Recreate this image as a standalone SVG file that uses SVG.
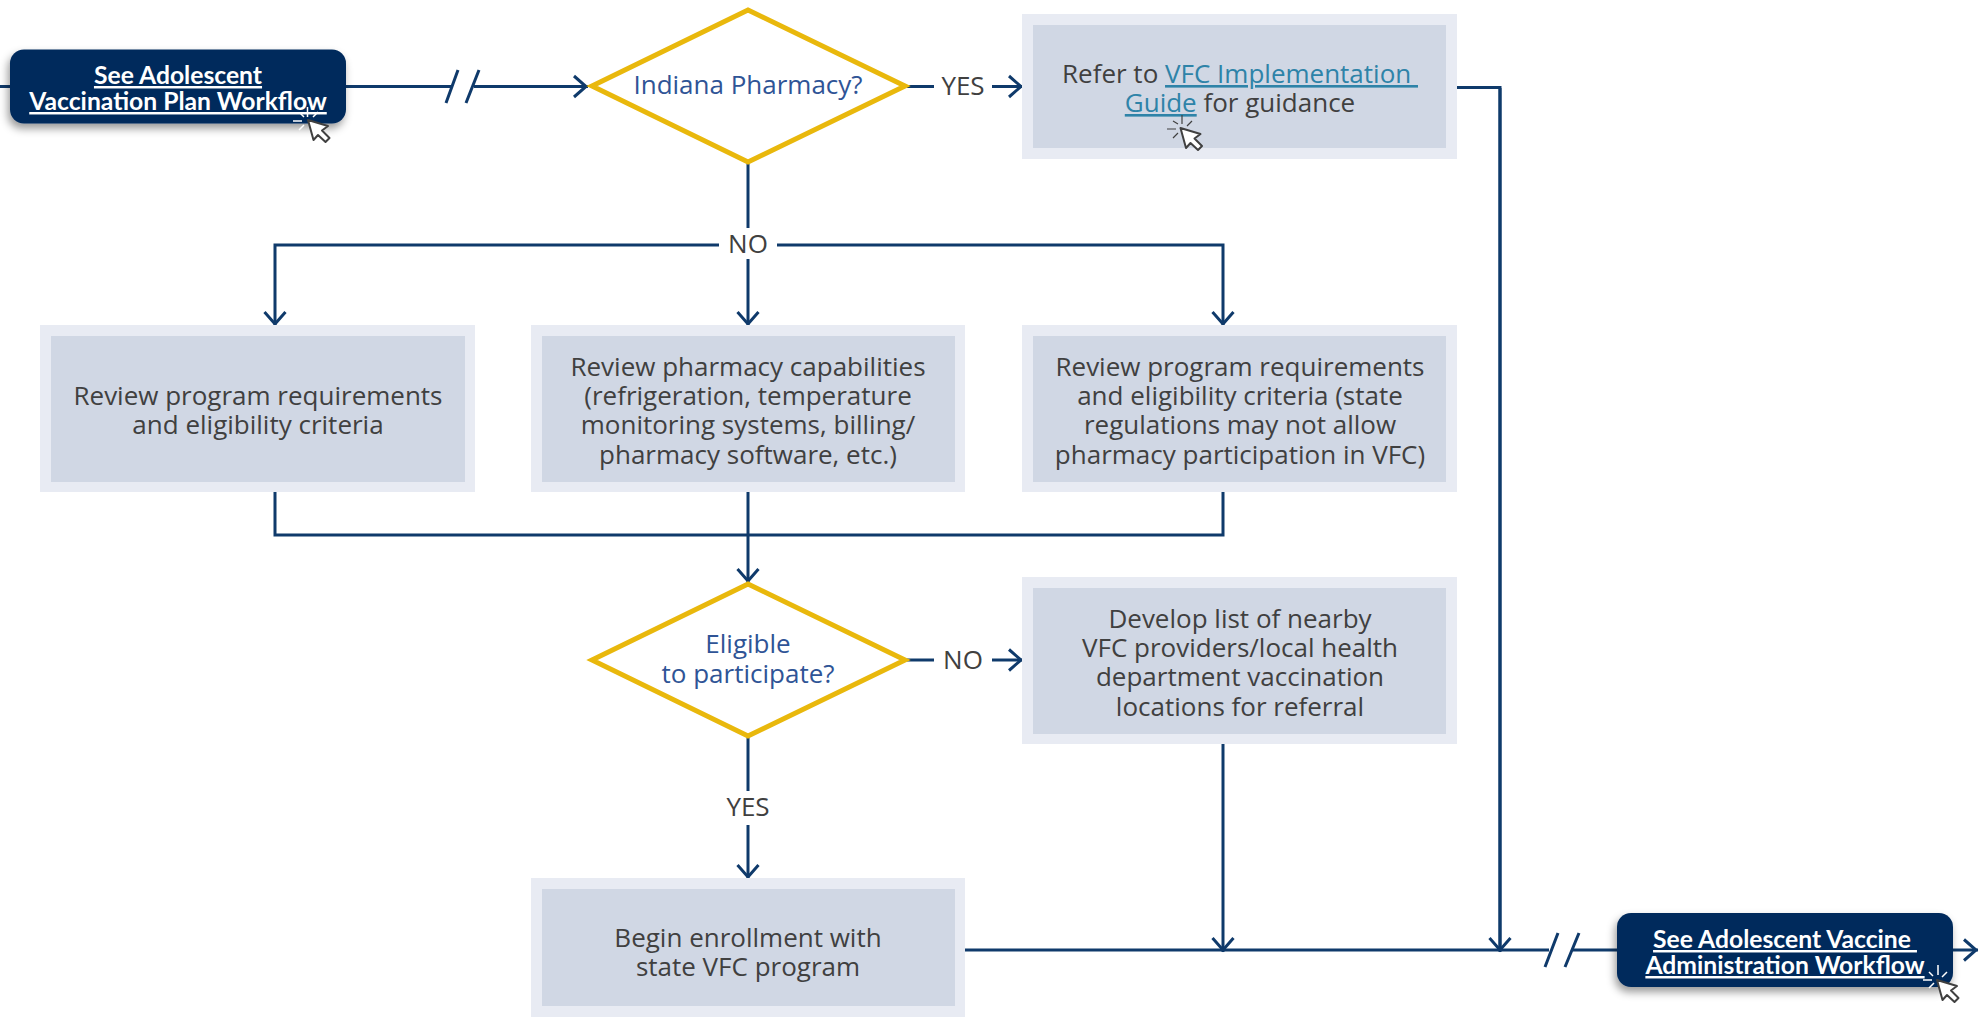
<svg xmlns="http://www.w3.org/2000/svg" width="1986" height="1017" viewBox="0 0 1986 1017">
<style>
text{font-family:"Open Sans","Noto Sans","Liberation Sans",sans-serif;font-size:26px;fill:#404040;text-anchor:middle;white-space:pre}
.outer{fill:#e8ebf3}.inner{fill:#d0d7e4}
.dia{fill:#fff;stroke:#e9b80c;stroke-width:5}
.q{fill:#2f5496}
.btn{fill:#002b5c}
text.bt{font-family:"Lato","Liberation Sans",sans-serif;font-weight:700;font-size:24.7px;fill:#fff;text-decoration:underline}
.ln{fill:none;stroke:#0f3a6b;stroke-width:3}
.link{fill:#2e83a8;text-decoration:underline}
.cur{fill:#fff;stroke:#404040;stroke-width:2;stroke-linejoin:round}
.spark{stroke:#fff;stroke-width:1.5;fill:none}
.spark2{stroke:#404040;stroke-width:1.2;fill:none}
</style>
<defs>
<marker id="a" markerUnits="userSpaceOnUse" markerWidth="24" markerHeight="28" refX="24" refY="12" orient="auto" overflow="visible"><path d="M10 1.500L22 12L10 22.500" fill="none" stroke="#0f3a6b" stroke-width="3"/></marker>
<filter id="s" x="-10%" y="-20%" width="120%" height="150%"><feDropShadow dx="-2" dy="5" stdDeviation="4" flood-color="#000" flood-opacity=".4"/></filter>
<path id="c1" class="cur" d="M0 0L5.500 20L10 15L17.500 22L21.500 18L14 10.500L20 6Z"/>
</defs>
<g id="connectors">
<path class="ln" d="M0 86.500H10"/>
<path class="ln" d="M346 86.500H453"/>
<path class="ln" d="M446 103L458 70M466 103L479 70"/>
<path class="ln" marker-end="url(#a)" d="M474 86.500H588"/>
<path class="ln" d="M907 86.500H934"/>
<path class="ln" marker-end="url(#a)" d="M992 86.500H1023"/>
<path class="ln" d="M1457 87.500H1500V950"/>
<path class="ln" marker-end="url(#a)" d="M1500 88V952"/>
<path class="ln" d="M748 163V228"/>
<path class="ln" marker-end="url(#a)" d="M748 259V326"/>
<path class="ln" marker-end="url(#a)" d="M719 245H275V326"/>
<path class="ln" marker-end="url(#a)" d="M777 245H1223V326"/>
<path class="ln" d="M275 492V535H1223V492"/>
<path class="ln" marker-end="url(#a)" d="M748 492V583"/>
<path class="ln" d="M907 660H934"/>
<path class="ln" marker-end="url(#a)" d="M992 660H1023"/>
<path class="ln" d="M748 737V791"/>
<path class="ln" marker-end="url(#a)" d="M748 825V879"/>
<path class="ln" marker-end="url(#a)" d="M1223 744V952"/>
<path class="ln" d="M965 950H1549"/>
<path class="ln" d="M1545 967L1558 933M1565 967L1579 933"/>
<path class="ln" d="M1573 950H1620"/>
<path class="ln" marker-end="url(#a)" d="M1950 950H1978"/>
</g>
<g id="start"><rect class="btn" filter="url(#s)" x="10" y="49.500" width="336" height="74" rx="14"/>
<text class="bt"><tspan x="178" y="84">See Adolescent</tspan><tspan x="178" y="110">Vaccination Plan Workflow</tspan></text></g>
<g id="d1"><polygon class="dia" points="748,10 905,86 748,162 592,86"/><text class="q" x="748" y="94">Indiana Pharmacy?</text></g>
<text x="963" y="95">YES</text>
<g id="refer"><rect class="outer" x="1022" y="14" width="435" height="145"/><rect class="inner" x="1033" y="25" width="413" height="123"/>
<text><tspan x="1240" y="83">Refer to <tspan class="link">VFC Implementation </tspan></tspan><tspan x="1240" y="112"><tspan class="link">Guide</tspan> for guidance</tspan></text></g>
<text x="748" y="253">NO</text>
<g id="n1"><rect class="outer" x="40" y="325" width="435" height="167"/><rect class="inner" x="51" y="336" width="414" height="146"/><text><tspan x="258" y="405">Review program requirements</tspan><tspan x="258" y="434">and eligibility criteria</tspan></text></g>
<g id="n2"><rect class="outer" x="531" y="325" width="434" height="167"/><rect class="inner" x="542" y="336" width="413" height="146"/><text><tspan x="748" y="376">Review pharmacy capabilities</tspan><tspan x="748" y="405">(refrigeration, temperature</tspan><tspan x="748" y="434">monitoring systems, billing/</tspan><tspan x="748" y="464">pharmacy software, etc.)</tspan></text></g>
<g id="n3"><rect class="outer" x="1022" y="325" width="435" height="167"/><rect class="inner" x="1033" y="336" width="413" height="146"/><text><tspan x="1240" y="376">Review program requirements</tspan><tspan x="1240" y="405">and eligibility criteria (state</tspan><tspan x="1240" y="434">regulations may not allow</tspan><tspan x="1240" y="464">pharmacy participation in VFC)</tspan></text></g>
<g id="d2"><polygon class="dia" points="748,584 905,660 748,736 592,660"/><text class="q"><tspan x="748" y="653">Eligible</tspan><tspan x="748" y="683">to participate?</tspan></text></g>
<text x="963" y="669">NO</text>
<g id="n4"><rect class="outer" x="1022" y="577" width="435" height="167"/><rect class="inner" x="1033" y="588" width="413" height="146"/><text><tspan x="1240" y="628">Develop list of nearby</tspan><tspan x="1240" y="657">VFC providers/local health</tspan><tspan x="1240" y="686">department vaccination</tspan><tspan x="1240" y="716">locations for referral</tspan></text></g>
<text x="748" y="816">YES</text>
<g id="n5"><rect class="outer" x="531" y="878" width="434" height="139"/><rect class="inner" x="542" y="889" width="413" height="117"/><text><tspan x="748" y="947">Begin enrollment with</tspan><tspan x="748" y="976">state VFC program</tspan></text></g>
<g id="end"><rect class="btn" filter="url(#s)" x="1617" y="913" width="336" height="74" rx="14"/><text class="bt"><tspan x="1785" y="948">See Adolescent Vaccine </tspan><tspan x="1785" y="974">Administration Workflow</tspan></text></g>
<g id="cursors">
<path class="spark" d="M293 121h9M307.500 107v10M300 113l4 4M318 112l-5 5M304 125l-5 5"/><use href="#c1" x="308" y="120"/>
<path class="spark2" d="M1167 129h9M1182 115v9M1173 121l5 3M1192 121l-5 5M1178 133l-5 5"/><use href="#c1" x="1180.500" y="128"/>
<path class="spark" d="M1923 980h9M1938 965v10M1929 972l4 4M1947 972l-5 5M1934 983l-5 5"/><use href="#c1" x="1937" y="980"/>
</g>
</svg>
